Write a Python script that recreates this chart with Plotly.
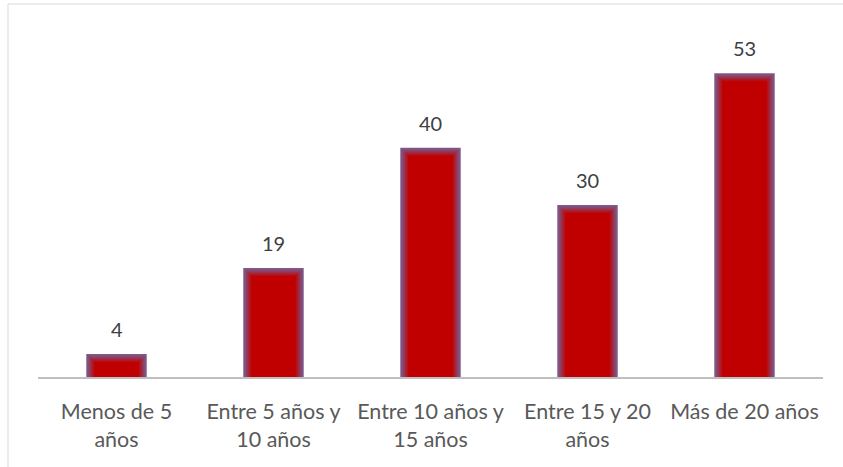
import plotly.graph_objects as go

categories = ["Menos de 5<br>años", "Entre 5 años y<br>10 años", "Entre 10 años y<br>15 años",
              "Entre 15 y 20<br>años", "Más de 20 años"]
values = [4, 19, 40, 30, 53]

W, H = 843, 467
M_L, M_R, M_T, M_B = 38, 20, 33, 90
Y_MAX = 60
px_per_unit = (H - M_T - M_B) / Y_MAX
cat_px = (W - M_L - M_R) / len(categories)

FONT = "Lato, Open Sans, sans-serif"

# soft inner glow: stack of narrowing bars blending from a muted purple edge to red
bar_w = 0.385
edge = (122, 92, 142)
core = (192, 0, 0)
layers = 9
step_px = 1.0

fig = go.Figure()
for i in range(layers):
    t = i / (layers - 1)
    col = tuple(round(edge[k] + (core[k] - edge[k]) * (t ** 1.1)) for k in range(3))
    shrink = i * step_px
    fig.add_trace(go.Bar(
        x=categories,
        y=[max(v - shrink / px_per_unit, 0) for v in values],
        width=bar_w - 2 * shrink / cat_px,
        marker=dict(color=f"rgb{col}", line=dict(width=0)),
        hoverinfo="skip",
        showlegend=False,
    ))

# value labels above each bar
annotations = [dict(x=c, y=v, text=str(v), showarrow=False, yshift=25,
                    font=dict(family=FONT, size=20, color="#404040"))
               for c, v in zip(categories, values)]

fig.update_layout(
    width=W, height=H,
    margin=dict(l=M_L, r=M_R, t=M_T, b=M_B),
    barmode="overlay",
    plot_bgcolor="white", paper_bgcolor="white",
    font=dict(family=FONT, size=21.5, color="#595959"),
    xaxis=dict(showgrid=False, showline=True, linecolor="#bfbfbf", linewidth=2,
               ticks="", ticklabelstandoff=14,
               tickfont=dict(family=FONT, size=21.5, color="#595959")),
    yaxis=dict(range=[0, Y_MAX], visible=False),
    annotations=annotations,
    shapes=[dict(type="rect", xref="paper", yref="paper",
                 x0=-(M_L - 8) / (W - M_L - M_R), x1=1.2,
                 y0=-1, y1=1 + (M_T - 4) / (H - M_T - M_B),
                 line=dict(color="#d9d9d9", width=1), layer="below")],
)

fig.write_html("out.html")
